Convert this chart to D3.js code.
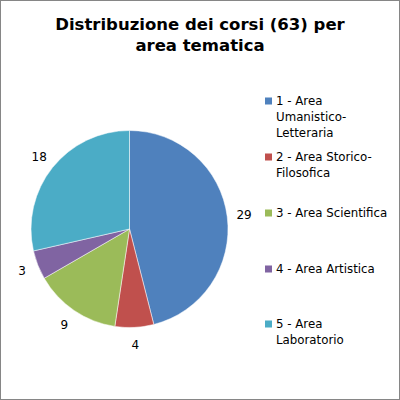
<!DOCTYPE html>
<html><head><meta charset="utf-8">
<script src="https://cdn.jsdelivr.net/npm/d3@7"></script>
<style>html,body{margin:0;padding:0;background:#fff;}svg{display:block;}</style>
</head><body>
<svg id="c" width="400" height="400"></svg>
<script>
const categories = ["1 - Area Umanistico-Letteraria","2 - Area Storico-Filosofica","3 - Area Scientifica","4 - Area Artistica","5 - Area Laboratorio"];
const legendLines = [["1 - Area","Umanistico-","Letteraria"],["2 - Area Storico-","Filosofica"],["3 - Area Scientifica"],["4 - Area Artistica"],["5 - Area","Laboratorio"]];
const values = [29,4,9,3,18];
const colors = ["#4F81BD","#C0504D","#9BBB59","#8064A2","#4BACC6"];
const titleLines = ["Distribuzione dei corsi (63) per","area tematica"];

const svg = d3.select("#c");
const font = "Tahoma, 'DejaVu Sans', sans-serif";
svg.append("rect").attr("x",0.5).attr("y",0.5).attr("width",399).attr("height",399)
  .attr("fill","#fff").attr("stroke","#868686").attr("stroke-width",1);

svg.append("g").selectAll("text").data(titleLines).join("text")
  .attr("x",200).attr("y",(d,i)=>30+i*21).attr("text-anchor","middle")
  .attr("font-family",font).attr("font-weight","bold").attr("font-size",16.5)
  .attr("fill","#000").text(d=>d);

const cx=129.5, cy=229, r=98.5;
const pie = d3.pie().sort(null).value(d=>d);
const arcs = pie(values);
const arc = d3.arc().innerRadius(0).outerRadius(r);
const g = svg.append("g").attr("transform",`translate(${cx},${cy})`);
g.selectAll("path").data(arcs).join("path").attr("d",arc)
  .attr("fill",(d,i)=>colors[i]).attr("stroke","#fff").attr("stroke-width",0.5);

const labelArc = d3.arc().innerRadius(r+17).outerRadius(r+17);
g.selectAll("text").data(arcs).join("text")
  .attr("transform",d=>{const [x,y]=labelArc.centroid(d);return `translate(${x},${y})`;})
  .attr("text-anchor","middle").attr("dy","0.35em")
  .attr("font-family",font).attr("font-size",12).attr("fill","#000")
  .text(d=>d.data);

const legTop = [101,157,213,269,324];
const lg = svg.append("g");
legendLines.forEach((lines,i)=>{
  lg.append("rect").attr("x",265).attr("y",legTop[i]-3.5).attr("width",7).attr("height",7).attr("fill",colors[i]);
  lines.forEach((t,j)=>{
    lg.append("text").attr("x",276).attr("y",legTop[i]+j*16).attr("dy","0.35em")
      .attr("font-family",font).attr("font-size",11.8).attr("fill","#000").text(t);
  });
});
</script>
</body></html>
